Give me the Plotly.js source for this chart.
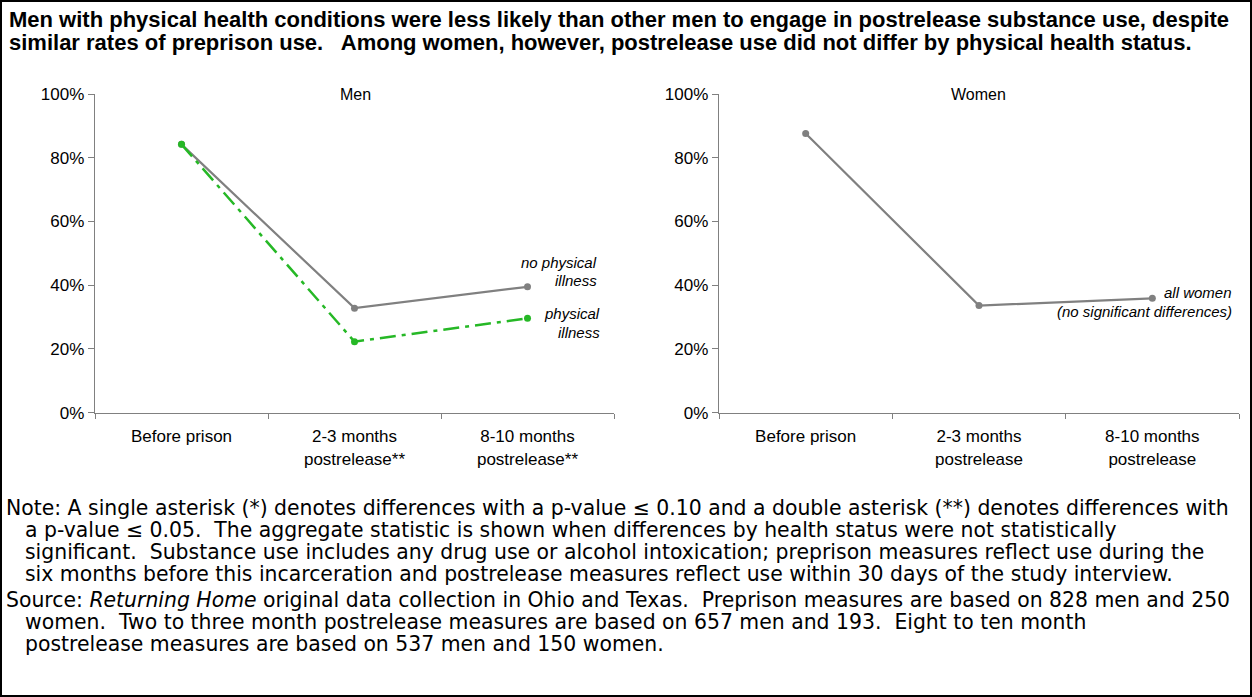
<!DOCTYPE html>
<html>
<head>
<meta charset="utf-8">
<script src="https://cdn.plot.ly/plotly-3.0.1.min.js"></script>
<style>
html,body{margin:0;padding:0;background:#fff;}
#chart{width:1252px;height:697px;}
</style>
</head>
<body>
<div id="chart"></div>
<script>
// ---- Data ----
var menCategories = ["Before prison", "2-3 months<br>postrelease**", "8-10 months<br>postrelease**"];
var womenCategories = ["Before prison", "2-3 months<br>postrelease", "8-10 months<br>postrelease"];
var menNoIllness = [0.842, 0.328, 0.395];
var menIllness = [0.842, 0.223, 0.296];
var allWomen = [0.876, 0.336, 0.359];
var yTickVals = [0, 0.2, 0.4, 0.6, 0.8, 1.0];
var yTickText = ["0%", "20%", "40%", "60%", "80%", "100%"];

var titleLines = [
  "Men with physical health conditions were less likely than other men to engage in postrelease substance use, despite",
  "similar rates of preprison use.   Among women, however, postrelease use did not differ by physical health status."
];
var noteLines = [
  "Note: A single asterisk (*) denotes differences with a p-value \u2264 0.10 and a double asterisk (**) denotes differences with",
  "a p-value \u2264 0.05.  The aggregate statistic is shown when differences by health status were not statistically",
  "significant.  Substance use includes any drug use or alcohol intoxication; preprison measures reflect use during the",
  "six months before this incarceration and postrelease measures reflect use within 30 days of the study interview."
];
var sourceLines = [
  "Source: <i>Returning Home</i> original data collection in Ohio and Texas.  Preprison measures are based on 828 men and 250",
  "women.  Two to three month postrelease measures are based on 657 men and 193.  Eight to ten month",
  "postrelease measures are based on 537 men and 150 women."
];

// ---- Layout helpers ----
var W = 1252, H = 697;
function px(x){ return x / W; }
function py(y){ return 1 - y / H; }

var gray = "#808080";
var green = "#26b826";
var FAM = "Liberation Sans, Arial, sans-serif";
var tickFont = {family: FAM, size: 17, color: "#000"};

var traces = [
  {x: menCategories, y: menNoIllness, xaxis: "x", yaxis: "y", type: "scatter", mode: "lines+markers",
   line: {color: gray, width: 2.2}, marker: {color: gray, size: 7}, hoverinfo: "skip"},
  {x: menCategories, y: menIllness, xaxis: "x", yaxis: "y", type: "scatter", mode: "lines+markers",
   line: {color: green, width: 2.5, dash: "16px,6px,4px,6px"}, marker: {color: green, size: 7}, hoverinfo: "skip"},
  {x: womenCategories, y: allWomen, xaxis: "x2", yaxis: "y2", type: "scatter", mode: "lines+markers",
   line: {color: gray, width: 2.2}, marker: {color: gray, size: 7}, hoverinfo: "skip"}
];

function xAxis(domain, anchor){
  return {domain: domain, anchor: anchor, type: "category", range: [-0.5, 2.5], showgrid: false, zeroline: false,
    showline: true, linecolor: gray, linewidth: 1.3, ticks: "outside", tickson: "boundaries",
    ticklen: 5, tickcolor: gray, tickwidth: 1, tickfont: tickFont, ticklabelstandoff: 8, fixedrange: true};
}
function yAxis(domain, anchor){
  return {domain: domain, anchor: anchor, range: [0, 1], tickvals: yTickVals, ticktext: yTickText,
    showgrid: false, zeroline: false, showline: true, linecolor: gray, linewidth: 1.3,
    ticks: "outside", ticklen: 6, tickcolor: gray, tickwidth: 1, tickfont: tickFont, fixedrange: true};
}

var yDom = [py(412.7), py(94)];
var annotations = [];
function addText(text, x, y, opts){
  var a = Object.assign({text: text, x: px(x), y: py(y), xref: "paper", yref: "paper", showarrow: false,
    xanchor: "left", yanchor: "middle", borderpad: 0, font: {family: FAM, size: 16, color: "#000"}}, opts || {});
  annotations.push(a);
}

// titles
var titleFont = {family: FAM, size: 22, color: "#000"};
addText("<b>" + titleLines[0] + "</b>", 8, 20, {font: titleFont});
addText("<b>" + titleLines[1] + "</b>", 8, 42, {font: titleFont});
addText("Men", 355, 94, {xanchor: "center"});
addText("Women", 978, 94, {xanchor: "center"});

// series labels
var labFont = {family: FAM, size: 15, color: "#000"};
addText("<i>no physical</i>", 598, 262, {xanchor: "right", font: labFont});
addText("<i>illness</i>", 598, 281, {xanchor: "right", font: labFont});
addText("<i>physical</i>", 601, 313, {xanchor: "right", font: labFont});
addText("<i>illness</i>", 601, 332, {xanchor: "right", font: labFont});
addText("<i>all women</i>", 1233, 292, {xanchor: "right", font: labFont});
addText("<i>(no significant differences)</i>", 1233, 311, {xanchor: "right", font: labFont});

// notes
var noteFont = {family: "DejaVu Sans, Verdana, sans-serif", size: 20.4, color: "#000"};
var noteY = [508, 530, 552, 574];
noteLines.forEach(function(t, i){ addText(t, i === 0 ? 5 : 24, noteY[i], {font: noteFont}); });
var srcY = [600, 622, 644];
sourceLines.forEach(function(t, i){ addText(t, i === 0 ? 5 : 24, srcY[i], {font: noteFont}); });

var layout = {
  width: W, height: H, margin: {l: 0, r: 0, t: 0, b: 0}, showlegend: false,
  paper_bgcolor: "#fff", plot_bgcolor: "#fff",
  xaxis: xAxis([px(95), px(614)], "y"),
  yaxis: yAxis(yDom, "x"),
  xaxis2: xAxis([px(719), px(1239)], "y2"),
  yaxis2: yAxis(yDom, "x2"),
  annotations: annotations,
  shapes: [{type: "rect", xref: "paper", yref: "paper", x0: px(1), x1: px(1251), y0: py(696), y1: py(1),
    line: {color: "#000", width: 2}, fillcolor: "rgba(0,0,0,0)"}]
};

Plotly.newPlot("chart", traces, layout, {displayModeBar: false, staticPlot: true});
</script>
</body>
</html>
